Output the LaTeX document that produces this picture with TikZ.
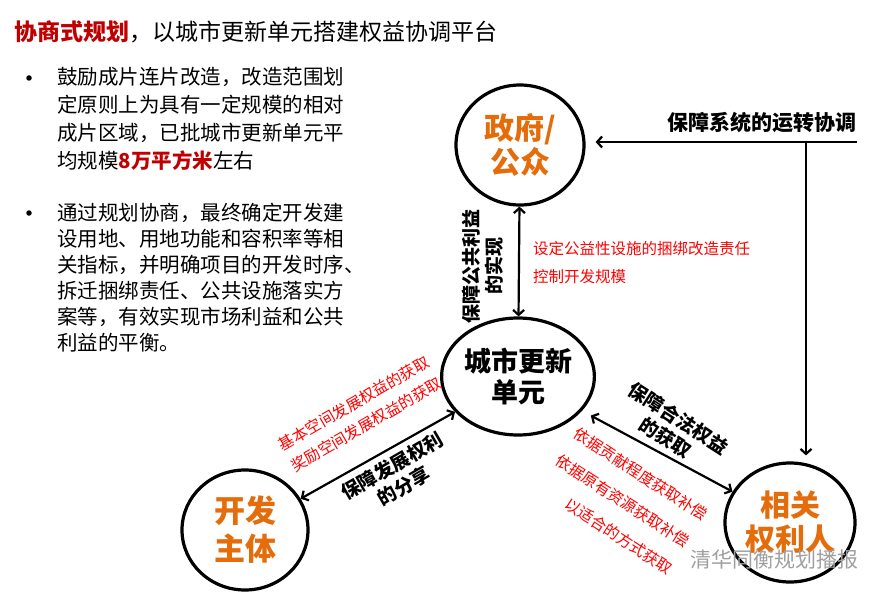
\documentclass[tikz,border=0pt]{standalone}
\usepackage{fontspec}
\setmainfont{Noto Sans CJK SC}
\usetikzlibrary{arrows.meta, calc, shapes.geometric}
\definecolor{titred}{HTML}{C00000}
\definecolor{orng}{HTML}{E46C0A}
\definecolor{rtxt}{HTML}{FF0000}
\tikzset{
  arr/.style={-{Straight Barb[length=5pt,width=11pt]}, line width=2.2pt},
  darr/.style={{Straight Barb[length=5pt,width=11pt]}-{Straight Barb[length=5pt,width=11pt]}, line width=2.2pt},
  circ/.style={ellipse, draw, line width=3.2pt, inner sep=0pt, align=center, text=orng,
    font=\fontsize{30}{34}\selectfont\bfseries},
  lab/.style={font=\fontsize{19}{23}\selectfont\bfseries, align=center, inner sep=0pt},
  rlab/.style={font=\fontsize{15.5}{#1}\selectfont, text=rtxt, align=left, inner sep=0pt},
  para/.style={anchor=north west, inner sep=0pt, align=left},
  dot/.style={circle, fill, inner sep=0pt, minimum size=5.5pt}
}

\begin{document}
\begin{tikzpicture}[x=1pt, y=-1pt]
\useasboundingbox (0,0) rectangle (893,599);
\node[anchor=west, inner sep=0pt, font=\fontsize{23}{26}\selectfont] (tit) at (14,32)
  {\textcolor{titred}{\bfseries 协商式规划}，以城市更新单元搭建权益协调平台};

\node[dot] (b1) at (29,78) {};
\node[para, font=\fontsize{20.5}{28}\selectfont] (p1) at (57,67.5)
  {鼓励成片连片改造，改造范围划\\定原则上为具有一定规模的相对\\成片区域，已批城市更新单元平\\均规模\textcolor{titred}{\bfseries 8万平方米}左右};
\node[dot] (b2) at (29,213) {};
\node[para, font=\fontsize{20.5}{26}\selectfont] (p2) at (57,202.5)
  {通过规划协商，最终确定开发建\\设用地、用地功能和容积率等相\\关指标，并明确项目的开发时序、\\拆迁捆绑责任、公共设施落实方\\案等，有效实现市场利益和公共\\利益的平衡。};

\node[circ, minimum width=128pt, minimum height=120pt] (gov) at (520,145) {政府/\\公众};
\node[circ, minimum width=118pt, minimum height=117pt, text=black,
  font=\fontsize{27}{31}\selectfont\bfseries] (unit) at (518,376.5) {城市更新\\单元};
\node[circ, minimum width=126pt, minimum height=120pt,
  font=\fontsize{31}{38}\selectfont\bfseries] (dev) at (245,530) {开发\\主体};
\node[circ, minimum width=130pt, minimum height=119pt] (own) at (790,522.5) {相关\\权利人};

\coordinate (sysR) at (857,142);
\coordinate (sysJ) at (806,142);
\draw[arr, shorten >=10pt] (sysR) -- (sysR -| gov.east);
\draw[arr, shorten >=6pt] (sysJ) -- (sysJ |- own.north);
\draw[darr] (gov) -- (unit);
\draw[darr] (dev) -- (unit);
\draw[darr, shorten <=10pt] (unit) -- (own);

\node[lab, anchor=east, font=\fontsize{21}{24}\selectfont\bfseries] (sysL) at (857,123) {保障系统的运转协调};
\node[lab, rotate=90] (pubL) at (483,266) {保障公共利益\\的实现};
\node[rlab=28, anchor=west] (pubR) at (533,263) {设定公益性设施的捆绑改造责任\\控制开发规模};
\node[lab, rotate=30] (devL) at (398,476) {保障发展权利\\的分享};
\node[rlab=24.5, rotate=30] (devR) at (360,414) {基本空间发展权益的获取\\奖励空间发展权益的获取};
\node[lab, rotate=-33] (ownL) at (672,428) {保障合法权益\\的获取};
\node[rlab=32, rotate=-33] (ownR) at (623,501) {依据贡献程度获取补偿\\依据原有资源获取补偿\\\hspace*{2em}以适合的方式获取};

\node[anchor=west, inner sep=0pt, text=gray!75, font=\fontsize{21}{24}\selectfont] (wm) at (690,560) {清华同衡规划播报};
\end{tikzpicture}
\end{document}
